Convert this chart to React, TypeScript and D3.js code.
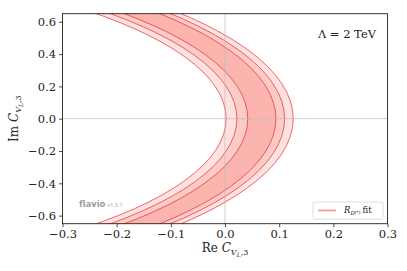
import { useRef, useEffect } from 'react';
import * as d3 from 'd3';

// Re C at Im C = 0 for each contour line, innermost first
const contourIntercepts = [0.002, 0.022, 0.042, 0.094, 0.11, 0.126];
// fill between successive lines, innermost band first
const bandFills = ['#ffffff', '#fde2df', '#fccbc6', '#fbb4ae', '#fccbc6', '#fde2df'];
const circleCentre = -1;

const xTicks = [-0.3, -0.2, -0.1, 0.0, 0.1, 0.2, 0.3];
const yTicks = [-0.6, -0.4, -0.2, 0.0, 0.2, 0.4, 0.6];

const W = 407;
const H = 271;

function App() {
    const ref = useRef<SVGSVGElement>(null);

    useEffect(() => {
        d3.select(ref.current).selectAll('*').remove();

        const left = 62.5, right = 387.5, top = 13.7, bottom = 223.7;
        const x = d3.scaleLinear().domain([-0.3, 0.3]).range([left, right]);
        const y = d3.scaleLinear().domain([-0.65, 0.65]).range([bottom, top]);

        const svg = d3.select(ref.current)
            .attr('width', W)
            .attr('height', H);

        svg.append('defs')
            .append('clipPath')
            .attr('id', 'plotclip')
            .append('rect')
            .attr('x', left)
            .attr('y', top)
            .attr('width', right - left)
            .attr('height', bottom - top);

        const plot = svg.append('g').attr('clip-path', 'url(#plotclip)');

        // contours are circles |1 + C| = r, drawn largest first
        const rings = contourIntercepts.map((c, i) => ({ r: c - circleCentre, fill: bandFills[i] }))
            .reverse();

        plot.selectAll('ellipse.band')
            .data(rings)
            .enter()
            .append('ellipse')
            .attr('class', 'band')
            .attr('cx', x(circleCentre))
            .attr('cy', y(0))
            .attr('rx', d => x(circleCentre + d.r) - x(circleCentre))
            .attr('ry', d => y(0) - y(d.r))
            .attr('fill', d => d.fill)
            .attr('stroke', 'none');

        plot.selectAll('ellipse.line')
            .data(rings)
            .enter()
            .append('ellipse')
            .attr('class', 'line')
            .attr('cx', x(circleCentre))
            .attr('cy', y(0))
            .attr('rx', d => x(circleCentre + d.r) - x(circleCentre))
            .attr('ry', d => y(0) - y(d.r))
            .attr('fill', 'none')
            .attr('stroke', '#e8222c')
            .attr('stroke-opacity', 0.85)
            .attr('stroke-width', 0.8);

        // grid lines through zero
        svg.append('line')
            .attr('x1', x(0)).attr('x2', x(0))
            .attr('y1', top).attr('y2', bottom)
            .attr('stroke', '#bbbbbb').attr('stroke-opacity', 0.7).attr('stroke-width', 1);
        svg.append('line')
            .attr('x1', left).attr('x2', right)
            .attr('y1', y(0)).attr('y2', y(0))
            .attr('stroke', '#bbbbbb').attr('stroke-opacity', 0.7).attr('stroke-width', 1);

        // frame
        svg.append('rect')
            .attr('x', left).attr('y', top)
            .attr('width', right - left).attr('height', bottom - top)
            .attr('fill', 'none')
            .attr('stroke', '#222')
            .attr('stroke-width', 0.9);

        const fmt = (v: number) => d3.format('.1f')(v).replace('-', '\u2212');
        const serif = '"DejaVu Serif", serif';

        const xAxis = d3.axisBottom(x).tickValues(xTicks).tickSizeOuter(0).tickSize(3.5).tickPadding(2.5).tickFormat(d => fmt(+d));
        const gx = svg.append('g').attr('transform', `translate(0,${bottom})`).call(xAxis);
        gx.select('.domain').remove();
        gx.selectAll('line').attr('stroke', '#222').attr('stroke-width', 0.8);
        gx.selectAll('text').attr('font-family', serif).attr('font-size', 11.5).attr('fill', '#222');

        const yAxis = d3.axisLeft(y).tickValues(yTicks).tickSizeOuter(0).tickSize(3.5).tickPadding(3).tickFormat(d => fmt(+d));
        const gy = svg.append('g').attr('transform', `translate(${left},0)`).call(yAxis);
        gy.select('.domain').remove();
        gy.selectAll('line').attr('stroke', '#222').attr('stroke-width', 0.8);
        gy.selectAll('text').attr('font-family', serif).attr('font-size', 11.5).attr('fill', '#222');

        // axis labels
        const xl = svg.append('text')
            .attr('x', (left + right) / 2)
            .attr('y', 252)
            .attr('text-anchor', 'middle')
            .attr('font-family', serif)
            .attr('font-size', 12)
            .attr('fill', '#222');
        xl.append('tspan').text('Re ');
        xl.append('tspan').attr('font-style', 'italic').text('C');
        xl.append('tspan').attr('font-size', 8).attr('dy', 3).attr('font-style', 'italic').text('V');
        xl.append('tspan').attr('font-size', 6).attr('dy', 2).attr('font-style', 'italic').text('L');
        xl.append('tspan').attr('font-size', 8).attr('dy', -2).text(',3');

        const yl = svg.append('text')
            .attr('transform', `translate(18,${(top + bottom) / 2}) rotate(-90)`)
            .attr('text-anchor', 'middle')
            .attr('font-family', serif)
            .attr('font-size', 12)
            .attr('fill', '#222');
        yl.append('tspan').text('Im ');
        yl.append('tspan').attr('font-style', 'italic').text('C');
        yl.append('tspan').attr('font-size', 8).attr('dy', 3).attr('font-style', 'italic').text('V');
        yl.append('tspan').attr('font-size', 6).attr('dy', 2).attr('font-style', 'italic').text('L');
        yl.append('tspan').attr('font-size', 8).attr('dy', -2).text(',3');

        // annotation
        svg.append('text')
            .attr('x', 376)
            .attr('y', 38)
            .attr('text-anchor', 'end')
            .attr('font-family', serif)
            .attr('font-size', 11.5)
            .attr('fill', '#222')
            .text('\u039B = 2 TeV');

        // flavio watermark
        const fl = svg.append('text')
            .attr('x', 79)
            .attr('y', 207)
            .attr('font-family', '"Open Sans", sans-serif')
            .attr('fill', '#9a9a9a');
        fl.append('tspan').attr('font-size', 9.5).attr('font-weight', 'bold').text('flavio');
        fl.append('tspan').attr('font-size', 5.5).attr('dx', 2).text('v1.3.1');

        // legend
        const lg = svg.append('g');
        lg.append('rect')
            .attr('x', 313).attr('y', 202)
            .attr('width', 70).attr('height', 17)
            .attr('rx', 2)
            .attr('fill', 'white').attr('fill-opacity', 0.8)
            .attr('stroke', '#d6d6d6').attr('stroke-width', 0.8);
        lg.append('line')
            .attr('x1', 318).attr('x2', 336)
            .attr('y1', 210.5).attr('y2', 210.5)
            .attr('stroke', '#f4a4a4').attr('stroke-width', 2);
        const lt = lg.append('text')
            .attr('x', 344).attr('y', 213)
            .attr('font-family', serif)
            .attr('font-size', 8.5)
            .attr('fill', '#222');
        lt.append('tspan').attr('font-style', 'italic').text('R');
        lt.append('tspan').attr('font-size', 5.5).attr('dy', 2).attr('font-style', 'italic').text('D');
        lt.append('tspan').attr('font-size', 4.5).attr('dy', -1.5).text('(*)');
        lt.append('tspan').attr('dy', -0.5).attr('dx', 2).text('fit');
    }, []);

    return <svg ref={ref} style={{ position: 'absolute', left: 0, top: 0, display: 'block' }} />;
}

export default App;
